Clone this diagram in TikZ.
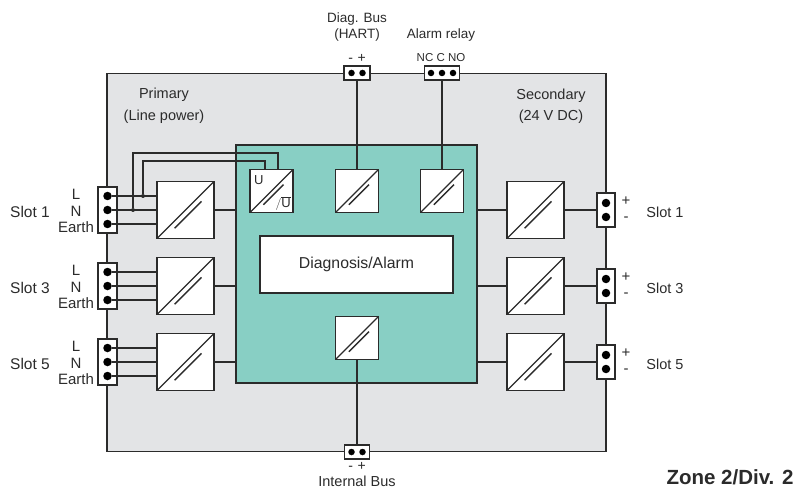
\documentclass[tikz,border=0pt]{standalone}
\usepackage{fontspec}
\setmainfont{Liberation Sans}
\usepackage{tikz}
\usetikzlibrary{positioning,calc}

\definecolor{housing}{HTML}{E3E4E6}
\definecolor{logic}{HTML}{88CFC4}
\definecolor{wire}{HTML}{2B2B2B}

\tikzset{
  every node/.style={font=\fontsize{14.5}{16.5}\selectfont,text=wire},
  conv/.style={draw=wire,fill=white,line width=1.8pt,minimum size=#1,inner sep=0pt,
    path picture={
      \draw[wire,line width=1.3pt] (path picture bounding box.south west) -- (path picture bounding box.north east);
      \draw[wire,line width=1.3pt] ($(path picture bounding box.center)+(-.19*#1,-.32*#1)$) -- ($(path picture bounding box.center)+(.28*#1,.15*#1)$);
    }},
  plug/.style={draw=wire,fill=white,line width=1.8pt,inner sep=0pt},
  pin/.style={circle,fill=black,inner sep=0pt,minimum size=8.5pt},
  smallpin/.style={circle,fill=black,inner sep=0pt,minimum size=6.5pt},
  dot/.style={circle,fill=wire,inner sep=0pt,minimum size=4pt},
  tiny/.style={font=\fontsize{11.5}{13}\selectfont},
  sign/.style={font=\fontsize{15}{16.5}\selectfont,align=center,inner sep=0pt},
  line/.style={wire,line width=1.9pt}
}

\begin{document}
\begin{tikzpicture}[x=1pt,y=-1pt,on grid,node distance=76pt]
  \useasboundingbox (0,0) rectangle (795,489);

  \node[draw=wire,fill=housing,line width=1.8pt,minimum width=499pt,minimum height=378pt,inner sep=0pt] (housing) at (356.5,262.5) {};
  \node[draw=wire,fill=logic,line width=1.8pt,minimum width=241pt,minimum height=238pt,inner sep=0pt] (logic) at (356.5,264) {};
  \node[draw=wire,fill=white,line width=1.8pt,minimum width=193pt,minimum height=57pt,inner sep=0pt,font=\fontsize{15.8}{18}\selectfont] (diag) at (356.5,264.5) {Diagnosis/Alarm};

  % primary side
  \node[conv=57pt] (p_1) at (185.5,210) {};
  \node[conv=57pt] (p_3) [below=of p_1] {};
  \node[conv=57pt] (p_5) [below=of p_3] {};

  \node[plug,minimum width=19pt,minimum height=46pt] (in_1) at (107.5,210) {};
  \node[plug,minimum width=19pt,minimum height=46pt] (in_3) [below=of in_1] {};
  \node[plug,minimum width=19pt,minimum height=46pt] (in_5) [below=of in_3] {};

  \node[pin] (l_1) at ([yshift=14pt]in_1.center) {};
  \node[pin] (n_1) at (in_1.center) {};
  \node[pin] (e_1) at ([yshift=-14pt]in_1.center) {};
  \node[pin] (l_3) at ([yshift=14pt]in_3.center) {};
  \node[pin] (n_3) at (in_3.center) {};
  \node[pin] (e_3) at ([yshift=-14pt]in_3.center) {};
  \node[pin] (l_5) at ([yshift=14pt]in_5.center) {};
  \node[pin] (n_5) at (in_5.center) {};
  \node[pin] (e_5) at ([yshift=-14pt]in_5.center) {};

  \node[align=center,font=\fontsize{15}{16.5}\selectfont] (t_1) at (76,211) {L\\N\\Earth};
  \node[align=center,font=\fontsize{15}{16.5}\selectfont] (t_3) at (76,287) {L\\N\\Earth};
  \node[align=center,font=\fontsize{15}{16.5}\selectfont] (t_5) at (76,363) {L\\N\\Earth};
  \node[font=\fontsize{15.5}{18}\selectfont] (s_1) at (30,212) {Slot 1};
  \node[font=\fontsize{15.5}{18}\selectfont] (s_3) at (30,288) {Slot 3};
  \node[font=\fontsize{15.5}{18}\selectfont] (s_5) at (30,364) {Slot 5};

  % secondary side
  \node[conv=57pt] (q_1) at (535.5,210) {};
  \node[conv=57pt] (q_3) [below=of q_1] {};
  \node[conv=57pt] (q_5) [below=of q_3] {};

  \node[plug,minimum width=18pt,minimum height=34pt] (out_1) at (606,210) {};
  \node[plug,minimum width=18pt,minimum height=34pt] (out_3) [below=of out_1] {};
  \node[plug,minimum width=18pt,minimum height=34pt] (out_5) [below=of out_3] {};

  \node[pin] at ([yshift=-7pt]out_1.center) {};
  \node[pin] at ([yshift=7pt]out_1.center) {};
  \node[pin] at ([yshift=-7pt]out_3.center) {};
  \node[pin] at ([yshift=7pt]out_3.center) {};
  \node[pin] at ([yshift=-7pt]out_5.center) {};
  \node[pin] at ([yshift=7pt]out_5.center) {};

  \node[sign] (pm_1) at (626,209) {+\\-};
  \node[sign] (pm_3) at (626,285) {+\\-};
  \node[sign] (pm_5) at (626,361) {+\\-};
  \node (r_1) at (665,212) {Slot 1};
  \node (r_3) at (665,288) {Slot 3};
  \node (r_5) at (665,364) {Slot 5};

  % inside the logic block
  \node[conv=43pt] (mon) at (271.5,191) {};
  \node[conv=43pt] (bus) at (357,191) {};
  \node[conv=43pt] (rel) at (442,191) {};
  \node[conv=43pt] (ibus) at (357,338) {};
  \node[anchor=north west,inner sep=0pt,font=\fontsize{13}{13}\selectfont] (u) at (254,175) {U};
  \node[anchor=south east,inner sep=0pt,font=\fontsize{13}{13}\selectfont] (ubar) at (291,210.5) {$/\overline{\mbox{U}}$};

  % top and bottom plugs
  \node[plug,minimum width=26pt,minimum height=14pt] (top_bus) at (357,73) {};
  \node[smallpin] at ([xshift=-5.5pt]top_bus.center) {};
  \node[smallpin] at ([xshift=5.5pt]top_bus.center) {};
  \node[plug,minimum width=35pt,minimum height=14pt] (top_rel) at (442,73) {};
  \node[smallpin] at ([xshift=-11pt]top_rel.center) {};
  \node[smallpin] at (top_rel.center) {};
  \node[smallpin] at ([xshift=11pt]top_rel.center) {};
  \node[plug,minimum width=25pt,minimum height=14pt] (bot_bus) at (357,452) {};
  \node[smallpin] at ([xshift=-5.5pt]bot_bus.center) {};
  \node[smallpin] at ([xshift=5.5pt]bot_bus.center) {};

  % wires
  \draw[line] (l_1) -- (l_1 -| p_1.west);
  \draw[line] (n_1) -- (n_1 -| p_1.west);
  \draw[line] (e_1) -- (e_1 -| p_1.west);
  \draw[line] (l_3) -- (l_3 -| p_3.west);
  \draw[line] (n_3) -- (n_3 -| p_3.west);
  \draw[line] (e_3) -- (e_3 -| p_3.west);
  \draw[line] (l_5) -- (l_5 -| p_5.west);
  \draw[line] (n_5) -- (n_5 -| p_5.west);
  \draw[line] (e_5) -- (e_5 -| p_5.west);

  \draw[line] (p_1) -- (logic.west |- p_1);
  \draw[line] (p_3) -- (logic.west |- p_3);
  \draw[line] (p_5) -- (logic.west |- p_5);
  \draw[line] (logic.east |- q_1) -- (q_1);
  \draw[line] (logic.east |- q_3) -- (q_3);
  \draw[line] (logic.east |- q_5) -- (q_5);
  \draw[line] (q_1) -- (out_1);
  \draw[line] (q_3) -- (out_3);
  \draw[line] (q_5) -- (out_5);

  \draw[line] (top_bus) -- (top_bus |- bus.north);
  \draw[line] (top_rel) -- (top_rel |- rel.north);
  \draw[line] (ibus.south) -- (ibus.south |- bot_bus.north);

  \node[dot] (dot_n) at (133,210) {};
  \node[dot] (dot_l) at (143,196) {};
  \coordinate (feed_n) at (278,170);
  \coordinate (feed_l) at (265,170);
  \coordinate (bend_n) at (133,153);
  \coordinate (bend_l) at (143,161);
  \draw[line] (dot_n) -- (bend_n) -| (feed_n);
  \draw[line] (dot_l) -- (bend_l) -| (feed_l);

  % texts
  \node[align=center] (prim) at (164,106) {Primary\\[5pt](Line power)};
  \node[align=center] (sec) at (551,106) {Secondary\\[5pt](24 V DC)};
  \node[align=center,font=\fontsize{13.5}{16.5}\selectfont] (t_diag) at (357,27) {Diag. Bus\\(HART)};
  \node[font=\fontsize{13.5}{15.5}\selectfont] (t_rel) at (441,35) {Alarm relay};
  \node[tiny] (t_cnt) at (441,58) {NC C NO};
  \node[font=\fontsize{14}{14}\selectfont] (t_pm) at (357,58) {-\,\,+};
  \node[font=\fontsize{14}{14}\selectfont] (t_pmb) at (357,466) {-\,\,+};
  \node (t_ibus) at (357,481) {Internal Bus};
  \node[font=\fontsize{20.5}{22}\bfseries\selectfont] (zone) at (730,477) {Zone 2/Div. 2};
\end{tikzpicture}
\end{document}
